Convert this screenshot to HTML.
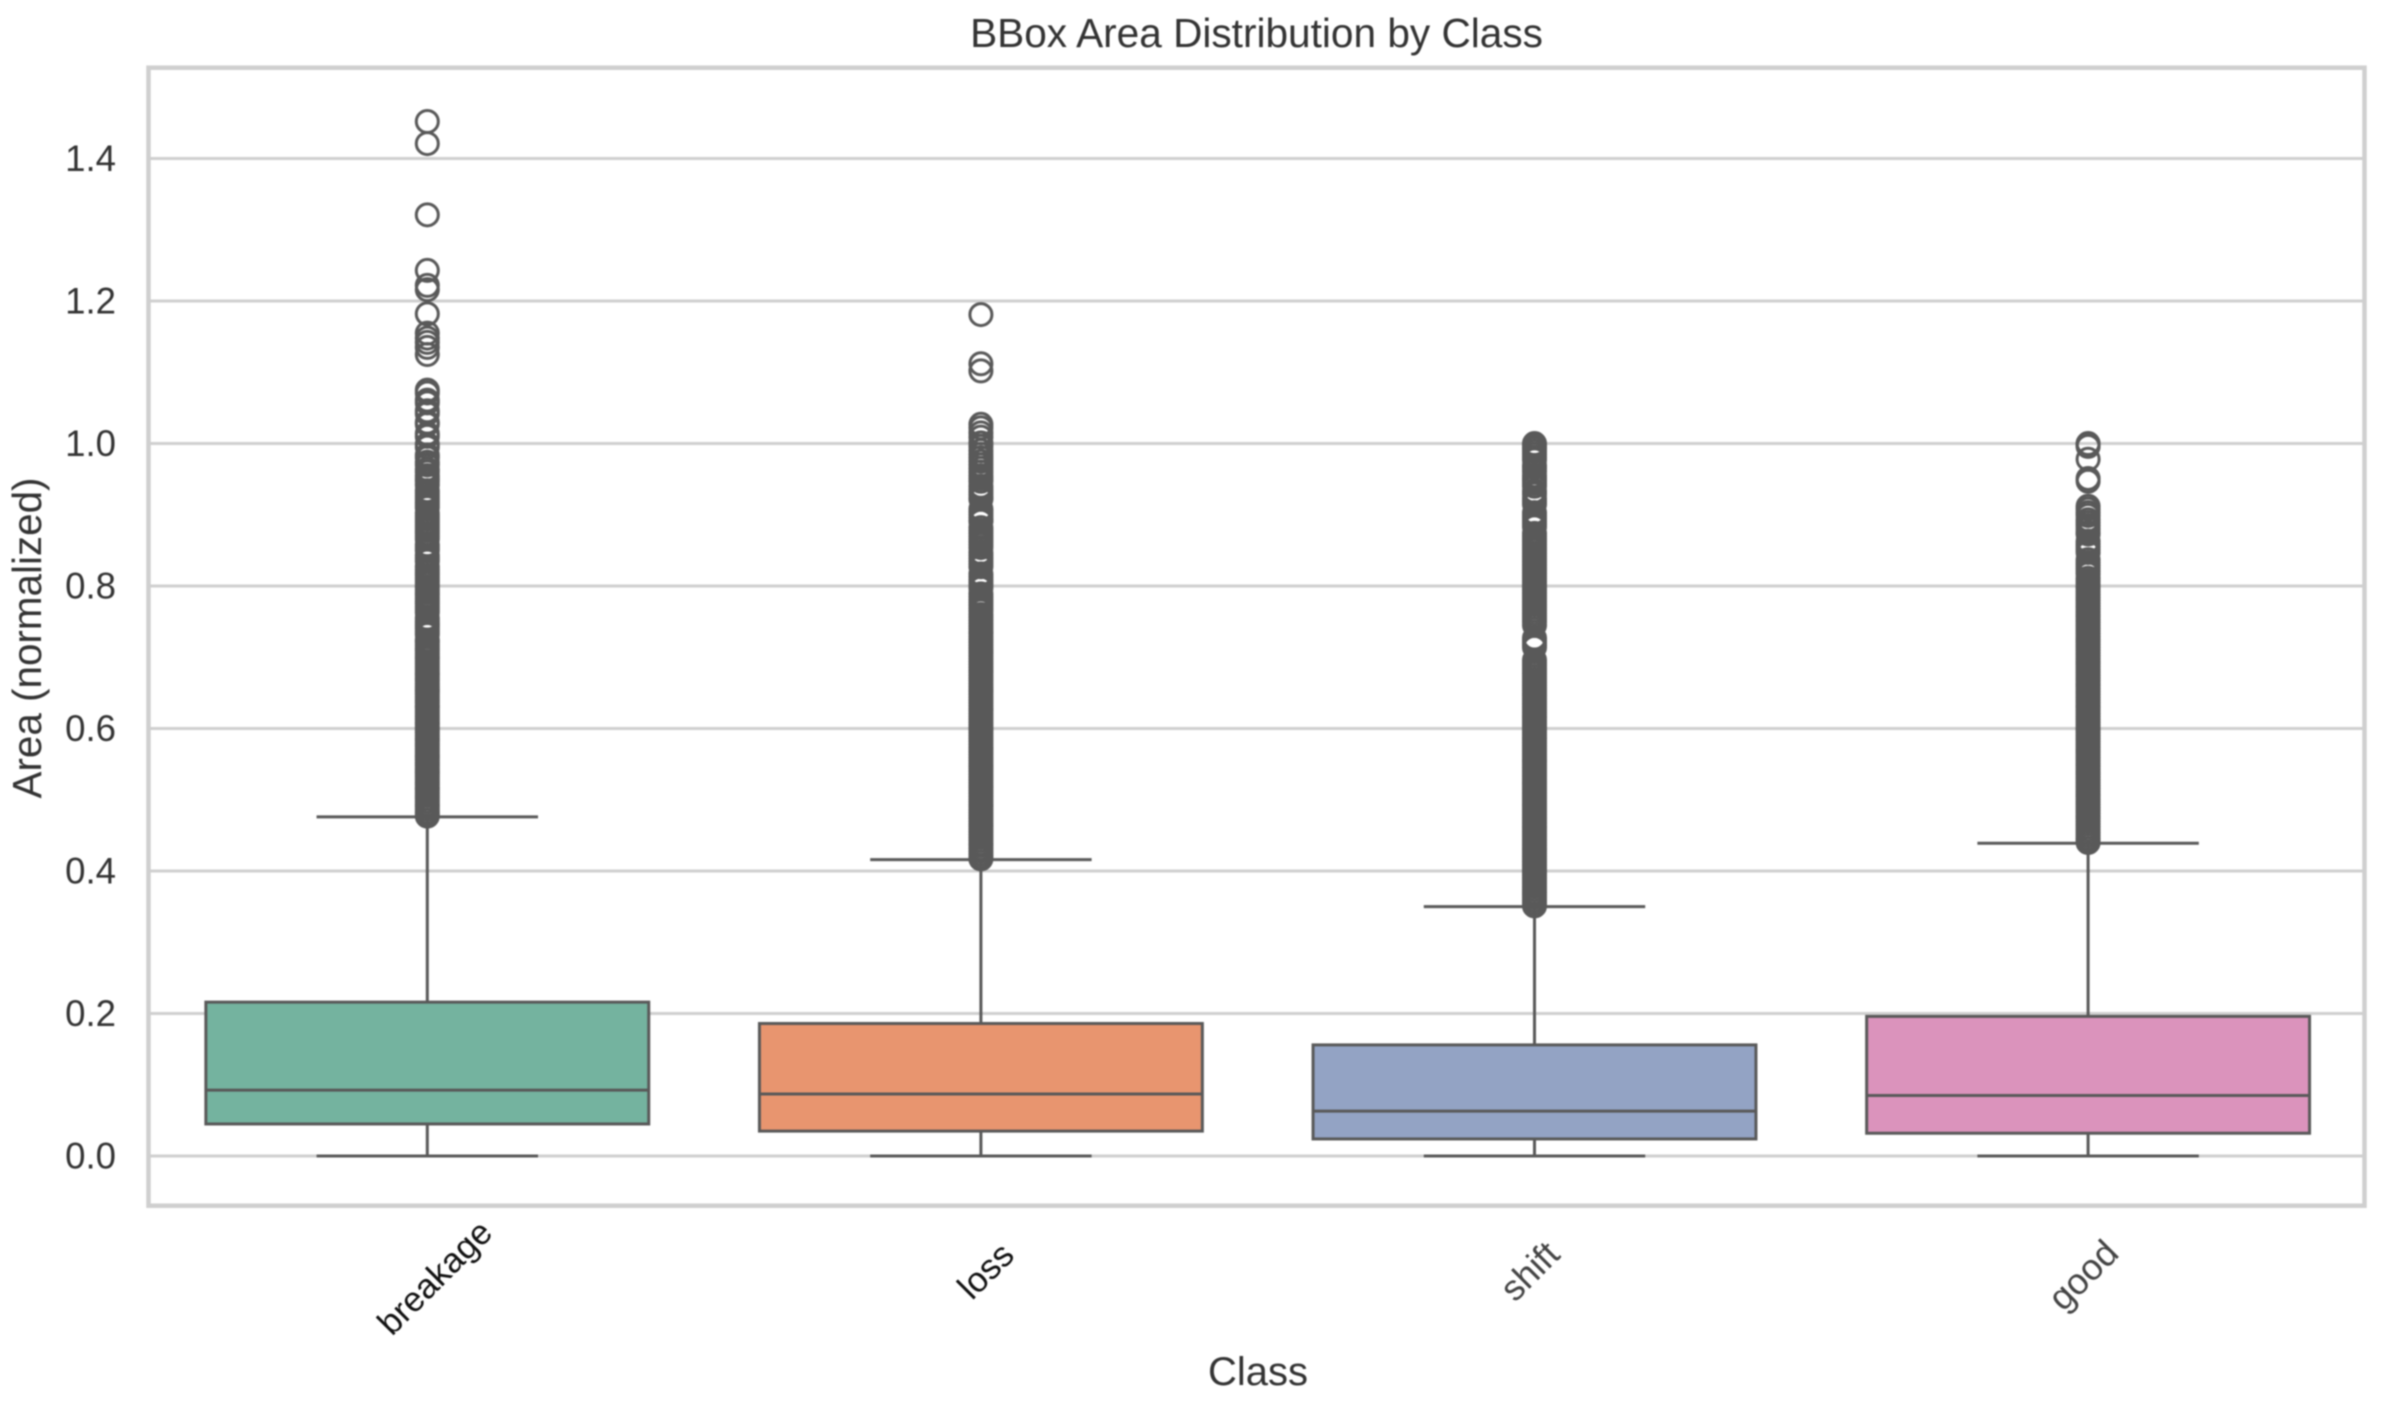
<!DOCTYPE html>
<html lang="en">
<head>
<meta charset="utf-8">
<title>BBox Area Distribution by Class</title>
<style>
html,body{margin:0;padding:0;background:#fff;width:2381px;height:1402px;overflow:hidden}
svg{display:block;filter:blur(0.85px)}
text{font-family:"Liberation Sans",Arial,sans-serif}
</style>
</head>
<body>
<svg id="chart" xmlns="http://www.w3.org/2000/svg" width="2381" height="1402" viewBox="0 0 2381 1402">
  <rect x="0" y="0" width="2381" height="1402" fill="#ffffff"/>
  <g id="grid"></g>
  <g id="marks"></g>
  <rect x="148.5" y="67.7" width="2216" height="1138" fill="none" stroke="#cfcfcf" stroke-width="4.5"/>
  <g id="ytick-group"></g>
  <g id="xtick-group"></g>
  <text x="1256.5" y="47" font-size="40.6" text-anchor="middle" fill="#333333">BBox Area Distribution by Class</text>
  <text x="1258" y="1385" font-size="40" text-anchor="middle" fill="#333333">Class</text>
  <text transform="translate(41 638) rotate(-90)" x="0" y="0" font-size="40.4" text-anchor="middle" fill="#333333">Area (normalized)</text>
</svg>
<script>
const categories = ["breakage", "loss", "shift", "good"];
const q1Values = [0.045, 0.035, 0.024, 0.032];
const medianValues = [0.0925, 0.087, 0.063, 0.085];
const q3Values = [0.216, 0.186, 0.156, 0.196];
const whiskerLowValues = [0, 0, 0, 0];
const whiskerHighValues = [0.476, 0.416, 0.35, 0.439];
const yTickValues = [0, 0.2, 0.4, 0.6, 0.8, 1.0, 1.2, 1.4];
const yTickLabels = ["0.0", "0.2", "0.4", "0.6", "0.8", "1.0", "1.2", "1.4"];

const breakageFliers = [1.452,1.421,1.321,1.243,1.222,1.216,1.182,1.155,1.148,1.142,1.135,1.125,
1.075,1.071,1.061,1.057,1.046,1.042,1.03,1.027,1.014,1.01,.999,.995,.984,.98,.974,.97,.964,.96,.955,.951,.947,.942,.934,.93,.926,.922,.918,.914,.91,
.902,.898,.894,.89,.886,.882,.878,.874,.87,.866,.858,.854,.85,.843,.839,.835,.827,.823,.819,.815,.811,.807,.803,.799,.795,.791,.787,.783,.779,.775,.771,.767,.763,.755,.751,.747,.744,.74,.736,.732,.724,.721,.717,.713,.709,.705,.701,.698,.694,.69,.686,.682,.678,.675,.671,.667,.663,.659,.655,.652,.648,.644,.64,.636,.632,.629,.625,.621,.617,.613,.609,.606,.602,.598,.594,.59,.586,.583,.579,.575,.571,.567,.563,.56,.556,.552,.548,.544,.54,.537,.533,.529,.525,.521,.517,.514,.51,.506,.502,.498,.494,.491,.487,.483,.48,.477];

const lossFliers = [1.181,1.112,1.102,1.027,1.022,1.015,1.009,1.001,.996,.99,.985,.98,.975,.97,.965,.96,.955,.951,.947,.94,.936,.932,.928,.924,.922,.908,.904,.9,.896,.892,.891,.882,.878,.874,.87,.866,.862,.858,.854,.847,.843,.839,.835,.831,.827,.817,.813,.809,.805,.801,.797,.789,.785,.781,.777,.773,.769,.765,.76,.756,.752,.748,.744,.74,.736,.733,.729,.725,.721,.717,.713,.709,.706,.702,.698,.694,.69,.686,.682,.679,.675,.671,.667,.663,.659,.655,.652,.648,.644,.64,.636,.632,.628,.625,.621,.617,.613,.609,.605,.601,.598,.594,.59,.586,.582,.578,.574,.571,.567,.563,.559,.555,.551,.547,.544,.54,.536,.532,.528,.524,.52,.517,.513,.509,.505,.501,.497,.493,.49,.486,.482,.478,.474,.47,.466,.463,.459,.455,.451,.447,.443,.439,.436,.432,.428,.424,.42,.417];

const shiftFliers = [1.0,.998,.996,.993,.989,.985,.981,.977,.969,.966,.961,.955,.951,.948,.944,.94,.933,.929,.923,.919,.915,.903,.899,.895,.891,.887,.883,.874,.87,.866,.862,.858,.854,.85,.846,.842,.838,.834,.83,.826,.822,.818,.814,.81,.806,.802,.798,.794,.79,.786,.782,.778,.774,.77,.766,.762,.758,.754,.75,.745,.727,.724,.72,.717,.714,.696,.692,.688,.684,.68,.677,.673,.669,.665,.661,.657,.653,.649,.646,.642,.638,.634,.63,.626,.622,.618,.615,.611,.607,.603,.599,.595,.591,.587,.584,.58,.576,.572,.568,.564,.56,.556,.553,.549,.545,.541,.537,.533,.529,.525,.522,.518,.514,.51,.506,.502,.498,.494,.491,.487,.483,.479,.475,.471,.467,.463,.46,.456,.452,.448,.444,.44,.436,.432,.429,.425,.421,.417,.413,.409,.405,.401,.398,.394,.39,.386,.382,.378,.374,.37,.367,.363,.359,.355,.351];

const goodFliers = [1.0,.999,.998,.996,.978,.951,.947,.912,.908,.903,.899,.893,.889,.885,.88,.875,.873,.863,.859,.855,.851,.847,.837,.833,.829,.825,.821,.817,.811,.807,.803,.799,.796,.792,.788,.784,.78,.776,.772,.768,.764,.76,.757,.753,.749,.745,.741,.737,.733,.729,.725,.722,.718,.714,.71,.706,.702,.698,.694,.691,.687,.683,.679,.675,.671,.667,.663,.66,.656,.652,.648,.644,.64,.636,.632,.629,.625,.621,.617,.613,.609,.605,.601,.598,.594,.59,.586,.582,.578,.574,.57,.567,.563,.559,.555,.551,.547,.543,.539,.536,.532,.528,.524,.52,.516,.512,.508,.505,.501,.497,.493,.489,.485,.481,.477,.474,.47,.466,.462,.458,.454,.45,.446,.443,.44];

const flierSeries = [breakageFliers, lossFliers, shiftFliers, goodFliers];

const boxColors = ["#74b39f", "#e8956f", "#93a3c4", "#db93bc"];
const labelColors = ["#111111", "#111111", "#444444", "#444444"];
const labelFontSizes = [34.7, 35, 36, 36.5];
const labelShiftX = [8, 5, -5, -5];
const labelShiftY = [0, -7, -7, -3];

const SVG_NS = "http://www.w3.org/2000/svg";
const plotLeft = 150.5, plotWidth = 2214.4, plotTop = 67.7, plotBottom = 1205.7;
const yDomainMin = -0.0697, yDomainMax = 1.5275;
const lineColor = "#595959";

function xScale(i) { return plotLeft + (i + 0.5) / categories.length * plotWidth; }
function bandWidth() { return plotWidth / categories.length; }
function yScale(v) { return plotBottom - (v - yDomainMin) / (yDomainMax - yDomainMin) * (plotBottom - plotTop); }
function mk(tag, attrs, parent) {
  const el = document.createElementNS(SVG_NS, tag);
  for (const k in attrs) el.setAttribute(k, attrs[k]);
  parent.appendChild(el);
  return el;
}

const grid = document.getElementById("grid");
const marks = document.getElementById("marks");
const yTickGroup = document.getElementById("ytick-group");
const xTickGroup = document.getElementById("xtick-group");

yTickValues.forEach(function (v, i) {
  const gl = mk("line", {x1: 148.5, x2: 2364.5, y1: yScale(v), y2: yScale(v), stroke: "#cfcfcf", "stroke-width": 3}, grid);
  
  
  const t = mk("text", {x: 116, y: yScale(v) + 12.5, "font-size": 36.6, "text-anchor": "end", fill: "#333333"}, yTickGroup);
  t.textContent = yTickLabels[i];
  
  
});

categories.forEach(function (cat, i) {
  const cx = xScale(i);
  const bw = bandWidth() * 0.8;
  const capW = bandWidth() * 0.4;
  const g = mk("g", {}, marks);
  
  

  const lineStyle = {stroke: lineColor, "stroke-width": 3, fill: "none"};

  const wl = mk("line", Object.assign({x1: cx, x2: cx, y1: yScale(q1Values[i]), y2: yScale(whiskerLowValues[i])}, lineStyle), g);
  
  
  const wh = mk("line", Object.assign({x1: cx, x2: cx, y1: yScale(q3Values[i]), y2: yScale(whiskerHighValues[i])}, lineStyle), g);
  
  
  const cl = mk("line", Object.assign({x1: cx - capW / 2, x2: cx + capW / 2, y1: yScale(whiskerLowValues[i]), y2: yScale(whiskerLowValues[i])}, lineStyle), g);
  
  
  const ch = mk("line", Object.assign({x1: cx - capW / 2, x2: cx + capW / 2, y1: yScale(whiskerHighValues[i]), y2: yScale(whiskerHighValues[i])}, lineStyle), g);
  
  

  const box = mk("rect", {x: cx - bw / 2, y: yScale(q3Values[i]), width: bw, height: yScale(q1Values[i]) - yScale(q3Values[i]), fill: boxColors[i], stroke: lineColor, "stroke-width": 3}, g);
  
  

  const med = mk("line", Object.assign({x1: cx - bw / 2, x2: cx + bw / 2, y1: yScale(medianValues[i]), y2: yScale(medianValues[i])}, lineStyle), g);
  
  

  flierSeries[i].forEach(function (v) {
    const c = mk("circle", {cx: cx, cy: yScale(v), r: 11, fill: "none", stroke: lineColor, "stroke-width": 3}, g);
    
    
  });

  const lx = cx + labelShiftX[i];
  const ly = 1278 + labelShiftY[i];
  const tick = mk("text", {x: lx, y: ly, "font-size": labelFontSizes[i], "text-anchor": "middle", "dominant-baseline": "central", fill: labelColors[i], transform: "rotate(-45 " + lx + " " + ly + ")"}, xTickGroup);
  tick.textContent = cat;
  
  
});
</script>
</body>
</html>
